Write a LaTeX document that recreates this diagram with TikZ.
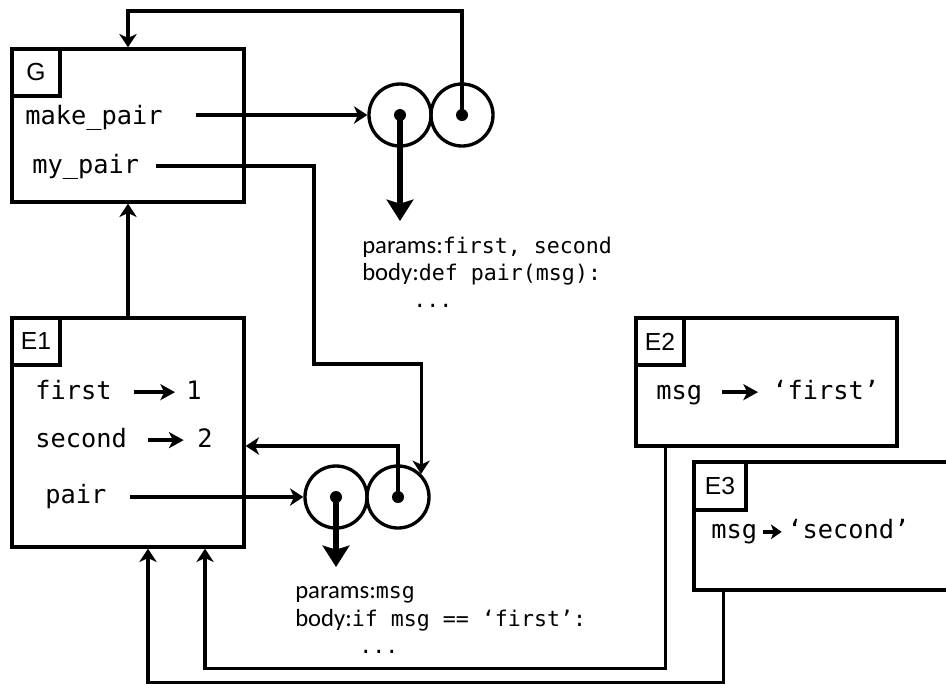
\documentclass[tikz,border=0pt]{standalone}
\usepackage{fontspec}
\setmainfont{Liberation Sans}
\newfontfamily\codefont{DejaVu Sans Mono}
\newfontfamily\lblfont{Carlito}
\usetikzlibrary{arrows.meta,fit,calc}
\newcommand\codetxt[1]{{\codefont\fontsize{16.2}{19}\selectfont #1}}
\begin{document}
\begin{tikzpicture}[x=0.75pt,y=-0.75pt,
  frame/.style={draw, line width=2.5pt, inner sep=0pt},
  tagbox/.style={draw, line width=2.5pt, inner sep=0pt, anchor=north west, minimum width=36pt, minimum height=35.25pt, font=\fontsize{18.5}{20}\selectfont},
  vartext/.style={inner sep=0pt, anchor=base west, font=\codefont\fontsize{19}{22}\selectfont},
  info/.style={inner sep=0pt, anchor=base west, font=\lblfont\fontsize{18.5}{21}\selectfont},
  ring/.style={circle, draw, line width=2.5pt, minimum size=46.5pt, inner sep=0pt},
  dot/.style={circle, fill, minimum size=9pt, inner sep=0pt},
  conn/.style={line width=2.4pt, -{Stealth[length=10pt,width=13pt,inset=3pt]}},
  bigarr/.style={line width=4.2pt, -{Stealth[length=16pt,width=20pt,inset=3pt]}},
  txtarr/.style={line width=2.8pt, -{Stealth[length=11pt,width=12pt,inset=3pt]}},
  smallarr/.style={line width=2.6pt, -{Stealth[length=8pt,width=11pt,inset=2pt]}},
]
\useasboundingbox (0,0) rectangle (946,683);

% frames
\node[frame, fit={(12,49) (244,202)}] (G) {};
\node[tagbox] (Gt) at (G.north west) {G};
\node[frame, fit={(12,318) (244,547)}] (E1) {};
\node[tagbox] (E1t) at (E1.north west) {E1};
\node[frame, fit={(636,318) (897,446)}] (E2) {};
\node[tagbox] (E2t) at (E2.north west) {E2};
\node[frame, fill=white, fit={(694,462) (970,590)}] (E3) {};
\node[tagbox, minimum width=39pt, minimum height=36pt] (E3t) at (E3.north west) {E3};

% G contents
\node[vartext] (mp) at (25,124) {make\_pair};
\node[vartext] (my) at (32,173) {my\_pair};
\coordinate (mpS) at (196,115);
\coordinate (myS) at (156,166);

% top function object
\node[ring] (C1) at (400,115) {};
\node[ring] (C2) at (462,115) {};
\node[dot] (d1) at (C1.center) {};
\node[dot] (d2) at (C2.center) {};
\coordinate (a1) at (400,221);
\node[info] (P1) at (362,253) {params:\codetxt{first, second}};
\node[info] (B1) at (362,280) {body:\codetxt{def pair(msg):}};
\node[info] (D1) at (413,307) {\codetxt{...}};

% E1 contents
\node[vartext] (fst) at (35,399) {first};
\node[vartext] (one) at (186,399) {1};
\node[vartext] (sec) at (35,447) {second};
\node[vartext] (two) at (197,447) {2};
\node[vartext] (pr) at (45,503) {pair};
\coordinate (prS) at (130,497);

% lower function object
\node[ring] (C3) at (336,497) {};
\node[ring] (C4) at (398,497) {};
\node[dot] (d3) at (C3.center) {};
\node[dot] (d4) at (C4.center) {};
\coordinate (a2) at (336,567);
\node[info] (P2) at (295,598) {params:\codetxt{msg}};
\node[info] (B2) at (295,626) {body:\codetxt{if msg == ‘first’:}};
\node[info] (D2) at (359,653) {\codetxt{...}};

% E2 / E3 contents
\node[vartext] (m2) at (656,399) {msg};
\node[vartext] (v2) at (772,399) {‘first’};
\node[vartext] (m3) at (711,538) {msg};
\node[vartext] (v3) at (787,538) {‘second’};

% text arrows
\draw[txtarr, shorten <=16.5pt, shorten >=8.25pt] ([yshift=2.5pt]fst.mid east) -- ([yshift=2.5pt]one.mid west);
\draw[txtarr, shorten <=16pt, shorten >=10pt] ([yshift=2.5pt]sec.mid east) -- ([yshift=2.5pt]two.mid west);
\draw[txtarr, shorten <=15pt, shorten >=10.5pt] ([yshift=2.5pt]m2.mid east) -- ([yshift=2.5pt]v2.mid west);
\draw[smallarr, shorten <=4.5pt, shorten >=4pt] ([yshift=2pt]m3.mid east) -- ([yshift=2pt]v3.mid west);

% connectors
\draw[conn] (mpS) -- (C1.west);
\draw[conn] (d2.center) -- ++(0,-104) -| (G.north);
\draw[bigarr] (d1.center) -- (a1);
\draw[conn] (E1.north) -- (G.south);
\draw[conn] (myS) -- (314,166) -- (314,364) -| (C4.45);
\draw[conn] (prS) -- (C3.west);
\draw[conn] (d4.center) |- (E1.east |- 0,446);
\draw[bigarr] (d3.center) -- (a2);
\draw[conn] ([xshift=23.25pt]E2.south west) -- ++(0,221) -| ([xshift=57.75pt]E1.south);
\draw[conn] ([xshift=23.25pt]E3.south west) -- ++(0,91) -| ([xshift=15pt]E1.south);
\end{tikzpicture}
\end{document}
